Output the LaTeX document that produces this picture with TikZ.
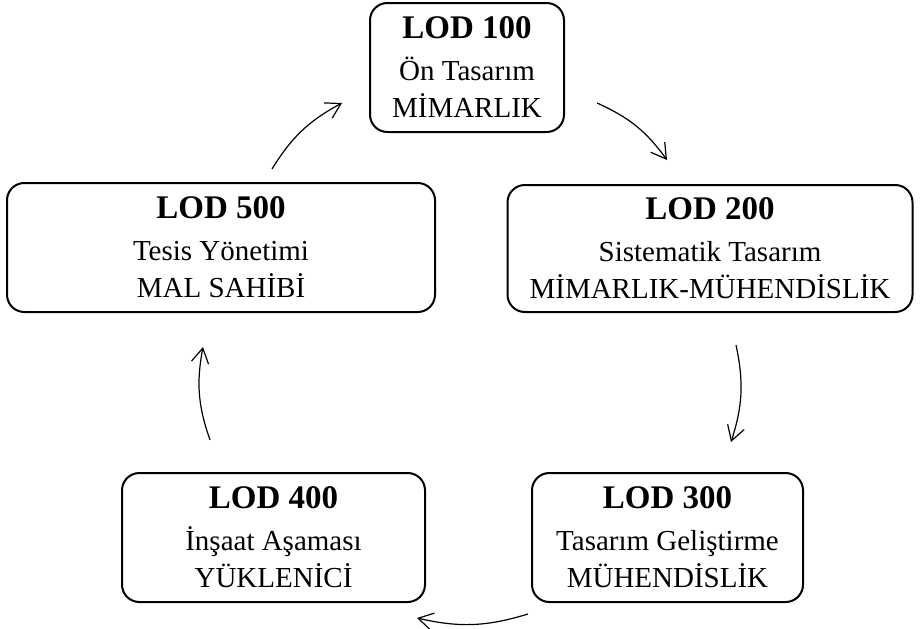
\documentclass[tikz,border=0pt]{standalone}
\usepackage{fontspec}
\setmainfont{Liberation Serif}
\usetikzlibrary{arrows.meta}

\newcommand{\lodtitle}[1]{{\bfseries\fontsize{24.75pt}{30pt}\selectfont #1}\\[3.75pt]}

\begin{document}
\begin{tikzpicture}
    [x=0.75pt,y=-0.75pt,
     lodbox/.style={draw,line width=1.5pt,rounded corners=13pt,align=center,
       inner sep=0pt,font=\fontsize{21.75pt}{27.75pt}\selectfont},
     cyclearrow/.style={line width=0.9pt,bend left=15,
       -{Straight Barb[length=11pt,width=13pt]}}]
      \useasboundingbox (0,0) rectangle (920,628);

      \node (lod100)[lodbox,minimum width=145.5pt,minimum height=96.75pt] at (467,67.5)
        {\lodtitle{LOD 100}Ön Tasarım\\MİMARLIK};
      \node (lod200)[lodbox,minimum width=303.75pt,minimum height=95.25pt] at (710,248.5)
        {\lodtitle{LOD 200}Sistematik Tasarım\\MİMARLIK-MÜHENDİSLİK};
      \node (lod300)[lodbox,minimum width=203.25pt,minimum height=96.75pt] at (667.5,537.5)
        {\lodtitle{LOD 300}Tasarım Geliştirme\\MÜHENDİSLİK};
      \node (lod400)[lodbox,minimum width=227.25pt,minimum height=96.75pt] at (273.5,537.5)
        {\lodtitle{LOD 400}İnşaat Aşaması\\YÜKLENİCİ};
      \node (lod500)[lodbox,minimum width=321pt,minimum height=96.75pt] at (221,247.5)
        {\lodtitle{LOD 500}Tesis Yönetimi\\MAL SAHİBİ};

      % arrow ends between the boxes
      \coordinate (s1) at (272,169);  \coordinate (e1) at (342,103);
      \coordinate (s2) at (597,103);  \coordinate (e2) at (667,160);
      \coordinate (s3) at (736,345);  \coordinate (e3) at (731,442);
      \coordinate (s4) at (528,614);  \coordinate (e4) at (417,618);
      \coordinate (s5) at (210,440);  \coordinate (e5) at (203,347);

      \foreach \from/\to in {s1/e1,s2/e2,s3/e3,s4/e4,s5/e5}
	\draw[cyclearrow] (\from) to (\to);
    \end{tikzpicture}
\end{document}
